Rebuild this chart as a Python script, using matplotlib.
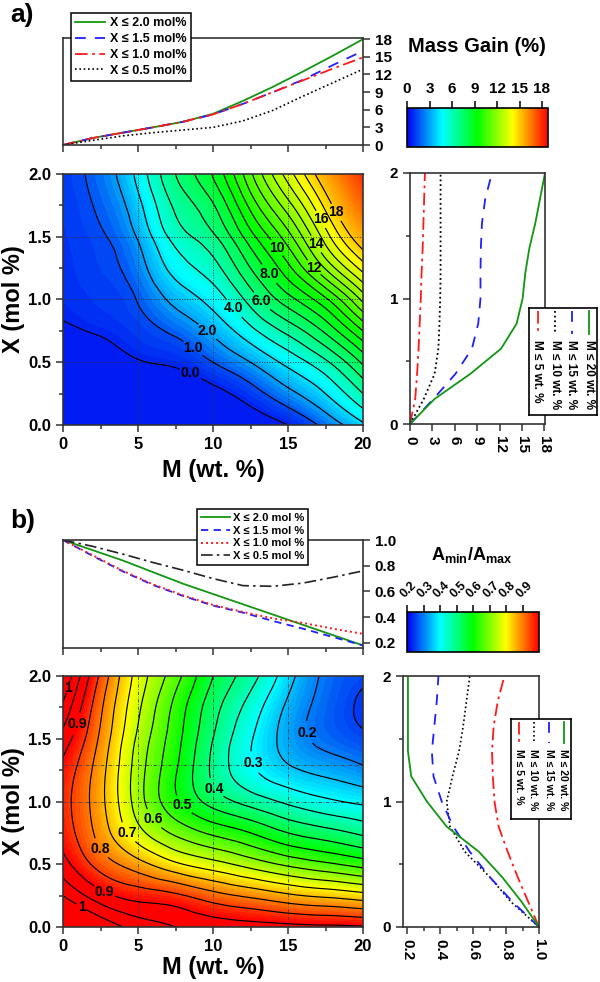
import numpy as np
import matplotlib
matplotlib.use('Agg')
import matplotlib.pyplot as plt
import matplotlib.tri as mtri
from matplotlib.colors import LinearSegmentedColormap, Normalize
from matplotlib.cm import ScalarMappable

plt.rcParams['font.family'] = ['Liberation Sans', 'DejaVu Sans']
plt.rcParams['font.weight'] = 'bold'
plt.rcParams['axes.labelweight'] = 'bold'
plt.rcParams['mathtext.fontset'] = 'custom'
plt.rcParams['mathtext.rm'] = 'Liberation Sans:bold'
plt.rcParams['mathtext.bf'] = 'Liberation Sans:bold'
plt.rcParams['mathtext.default'] = 'bf'

# ---- data ----
# map grid: M (wt. %) columns, X (mol %) rows
M_grid = [0, 2.5, 5, 7.5, 10, 12.5, 15, 17.5, 20]
X_grid = [0, 0.25, 0.5, 0.75, 1.0, 1.25, 1.5, 1.75, 2.0]

# a) mass gain (%), one row per X value
gain_map = [
    [-3.5, -3.0, -2.5, -2.0, -1.5, -0.8, 0.0, 1.3, 2.8],
    [-2.5, -2.0, -1.5, -1.0, -0.4, 0.55, 1.7, 3.0, 5.0],
    [-1.4, -0.9, -0.1, 0.2, 1.0, 2.0, 3.3, 4.8, 7.2],
    [-0.25, 0.15, 0.6, 1.2, 2.2, 3.7, 5.3, 7.2, 10.0],
    [0.25, 0.55, 1.05, 2.3, 3.4, 5.4, 7.6, 9.8, 13.3],
    [0.35, 0.75, 1.55, 3.4, 4.6, 7.0, 9.7, 13.1, 16.4],
    [0.45, 0.9, 2.1, 4.4, 5.8, 8.6, 11.6, 15.5, 19.0],
    [0.52, 1.15, 2.7, 5.2, 6.9, 10.3, 13.6, 17.3, 21.0],
    [0.6, 1.4, 3.3, 6.0, 8.1, 11.8, 15.5, 19.0, 22.5],
]

# b) Amin/Amax, one row per X value
ratio_map = [
    [1.12, 1.04, 0.98, 0.95, 0.93, 0.92, 0.915, 0.91, 0.905],
    [1.00, 0.92, 0.88, 0.86, 0.82, 0.79, 0.76, 0.74, 0.72],
    [0.92, 0.83, 0.77, 0.71, 0.67, 0.63, 0.59, 0.56, 0.53],
    [0.88, 0.78, 0.67, 0.59, 0.54, 0.50, 0.45, 0.42, 0.39],
    [0.87, 0.765, 0.625, 0.51, 0.43, 0.38, 0.34, 0.31, 0.29],
    [0.885, 0.77, 0.625, 0.505, 0.39, 0.31, 0.26, 0.235, 0.21],
    [0.93, 0.79, 0.64, 0.52, 0.40, 0.305, 0.23, 0.185, 0.16],
    [0.99, 0.81, 0.66, 0.535, 0.42, 0.33, 0.24, 0.18, 0.14],
    [1.05, 0.84, 0.68, 0.57, 0.45, 0.37, 0.27, 0.19, 0.16],
]

# top panels: value vs M
M_line = [0, 2, 4, 6, 8, 10, 12, 14, 16, 18, 20]
gain_x20 = [0, 1.2, 2.1, 3.0, 3.95, 5.3, 7.5, 9.9, 12.5, 15.2, 18.0]
gain_x15 = [0, 1.2, 2.1, 3.0, 3.95, 5.2, 7.0, 9.0, 11.1, 13.6, 16.0]
gain_x10 = [0, 1.2, 2.1, 3.0, 3.95, 5.2, 7.0, 9.0, 11.0, 13.0, 14.9]
gain_x05 = [0, 0.8, 1.55, 2.1, 2.55, 3.0, 4.1, 5.9, 8.3, 10.6, 12.9]

ratio_x20 = [1.0, 0.92, 0.84, 0.75, 0.66, 0.58, 0.50, 0.42, 0.34, 0.26, 0.18]
ratio_x15 = [1.0, 0.875, 0.755, 0.65, 0.565, 0.49, 0.435, 0.37, 0.31, 0.245, 0.18]
ratio_x10 = [1.0, 0.88, 0.76, 0.655, 0.57, 0.495, 0.44, 0.39, 0.355, 0.31, 0.27]
ratio_x05 = [1.0, 0.95, 0.89, 0.825, 0.765, 0.70, 0.645, 0.64, 0.665, 0.71, 0.76]

# right panels: value vs X
X_line = [0, 0.2, 0.4, 0.6, 0.8, 1.0, 1.2, 1.4, 1.6, 1.8, 2.0]
gain_m20 = [0, 3.3, 8.1, 12.2, 14.3, 15.1, 15.45, 16.0, 16.8, 17.45, 18.1]
gain_m15 = [0, 3.15, 6.1, 8.3, 9.15, 9.45, 9.45, 9.5, 9.65, 10.1, 11.0]
gain_m10 = [0, 1.85, 3.3, 3.8, 3.95, 4.05, 4.1, 4.1, 4.1, 4.1, 4.1]
gain_m05 = [0, 0.7, 0.95, 1.15, 1.3, 1.45, 1.55, 1.7, 1.8, 1.9, 2.0]

ratio_m20 = [1.0, 0.895, 0.775, 0.635, 0.44, 0.32, 0.225, 0.205, 0.205, 0.205, 0.205]
ratio_m15 = [1.0, 0.84, 0.70, 0.58, 0.48, 0.41, 0.36, 0.35, 0.365, 0.38, 0.39]
ratio_m10 = [1.0, 0.83, 0.70, 0.55, 0.46, 0.44, 0.475, 0.515, 0.54, 0.56, 0.58]
ratio_m05 = [1.0, 0.935, 0.87, 0.81, 0.755, 0.73, 0.72, 0.715, 0.725, 0.75, 0.79]

# ---- styling ----
GREEN = '#119611'
BLUE = '#1f1fff'
RED = '#ff1a1a'
DASH = (0, (6, 5))
DASHDOT = (0, (7, 2.5, 1.5, 2.5))
DOT = (0, (1, 1.6))
rainbow = LinearSegmentedColormap.from_list(
    'origin_rainbow', ['#0000f0', '#00ffff', '#00ff00', '#ffff00', '#ff0000'])

fig = plt.figure(figsize=(6, 9.82), dpi=100)


def px(l, t, r, b):
    return [l / 600, 1 - b / 982, (r - l) / 600, (b - t) / 982]


def style(ax, size=11):
    for s in ax.spines.values():
        s.set_linewidth(1.2)
        s.set_color('#333333')
    ax.tick_params(which='both', direction='out', width=1.1, color='#333333',
                   labelsize=size)
    ax.tick_params(which='major', length=5)
    ax.tick_params(which='minor', length=3)


def refined(z):
    mm, xx = np.meshgrid(M_grid, X_grid)
    tri = mtri.Triangulation(mm.ravel(), xx.ravel())
    return mtri.UniformTriRefiner(tri).refine_field(np.ravel(z), subdiv=3)


def contour_lines(ax, tri_f, z_f, levels, label_levels, spots, fmt):
    plain = [v for v in levels if v not in label_levels]
    ax.tricontour(tri_f, z_f, levels=plain, colors='k', linewidths=0.85)
    cs = ax.tricontour(tri_f, z_f, levels=label_levels, colors='k', linewidths=0.85)
    texts = ax.clabel(cs, manual=spots, fmt=fmt, inline=True, inline_spacing=2,
                      fontsize=10)
    for t in texts:
        t.set_rotation(0)


def side_legend(rect, entries, size):
    lax = fig.add_axes(rect)
    lax.set_xlim(0, 1)
    lax.set_ylim(0, 1)
    lax.set_xticks([])
    lax.set_yticks([])
    for s in lax.spines.values():
        s.set_linewidth(1.2)
    n = len(entries)
    for i, (lab, kw) in enumerate(entries):
        xc = (i + 0.5) / n
        lax.plot([xc, xc], [0.97, 0.76], **kw)
        lax.text(xc, 0.70, lab, rotation=-90, ha='center', va='top', fontsize=size)


def map_axes(ax, label_y):
    style(ax, 12)
    ax.set_xlim(0, 20)
    ax.set_ylim(0, 2)
    ax.set_xticks([0, 5, 10, 15, 20])
    ax.set_xticks([2.5, 7.5, 12.5, 17.5], minor=True)
    ax.set_yticks([0, 0.5, 1.0, 1.5, 2.0])
    ax.set_yticks([0.25, 0.75, 1.25, 1.75], minor=True)
    ax.yaxis.set_major_formatter(matplotlib.ticker.FormatStrFormatter('%.1f'))
    ax.set_xlabel('M (wt. %)', fontsize=17)
    ax.set_ylabel('X (mol %)', fontsize=17)
    ax.xaxis.set_label_coords(0.5, label_y)
    ax.yaxis.set_label_coords(-0.125, 0.5)


# ================= panel a =================
fig.text(0.017, 0.985, 'a)', fontsize=19, va='center')

ax = fig.add_axes(px(63, 38, 363, 145))
style(ax)
ax.plot(M_line, gain_x20, color=GREEN, lw=1.3, label='X ≤ 2.0 mol%')
ax.plot(M_line, gain_x15, color=BLUE, lw=1.3, ls=DASH, label='X ≤ 1.5 mol%')
ax.plot(M_line, gain_x10, color=RED, lw=1.3, ls=DASHDOT, label='X ≤ 1.0 mol%')
ax.plot(M_line, gain_x05, color='k', lw=1.2, ls=DOT, label='X ≤ 0.5 mol%')
ax.set_xlim(0, 20)
ax.set_ylim(0, 18.2)
ax.set_xticks([0, 5, 10, 15, 20])
ax.set_xticks([2.5, 7.5, 12.5, 17.5], minor=True)
ax.tick_params(axis='x', labelbottom=False)
ax.yaxis.tick_right()
ax.set_yticks(range(0, 19, 3))
leg = ax.legend(loc='upper left', bbox_to_anchor=(71 / 600, 1 - 13 / 982),
                bbox_transform=fig.transFigure, fontsize=9, fancybox=False,
                edgecolor='k', framealpha=1, handlelength=2.4, borderpad=0.35,
                labelspacing=0.3, handletextpad=0.4, borderaxespad=0)
leg.get_frame().set_linewidth(1.1)

fig.text(477 / 600, 1 - 47 / 982, 'Mass Gain (%)', fontsize=14.5, ha='center', va='center')
cax = fig.add_axes(px(407, 108, 548, 147))
cb = fig.colorbar(ScalarMappable(Normalize(0, 18.8), rainbow), cax=cax,
                  orientation='horizontal', ticks=range(0, 19, 3))
cax.xaxis.set_ticks_position('top')
cb.outline.set_linewidth(1.2)
cax.tick_params(direction='out', length=5, width=1.1, labelsize=11)

ax = fig.add_axes(px(63, 174, 363, 425))
map_axes(ax, -0.135)
tri_f, z_f = refined(gain_map)
bounds = np.arange(-6, 26.01, 0.25)
mid = (bounds[:-1] + bounds[1:]) / 2
pos = np.interp(mid, [0, 1, 2, 4, 6, 8, 10, 12, 14, 16, 18, 21, 24],
                [0.03, 0.08, 0.16, 0.28, 0.38, 0.46, 0.52, 0.59, 0.66, 0.73, 0.80, 0.9, 1.0])
ax.tricontourf(tri_f, z_f, levels=bounds, colors=[tuple(c) for c in rainbow(pos)])
for v in [5, 10, 15]:
    ax.axvline(v, color='#333333', ls=':', lw=0.7, zorder=2)
for v in [0.5, 1.0, 1.5]:
    ax.axhline(v, color='#333333', ls=':', lw=0.7, zorder=2)
contour_lines(ax, tri_f, z_f, list(np.arange(0, 19, 1.0)),
              [0.0, 1.0, 2.0, 4.0, 6.0, 8.0, 10.0, 12.0, 14.0, 16.0, 18.0],
              [(8.5, 0.41), (8.6, 0.6), (9.6, 0.74), (11.1, 0.9), (13.1, 0.97),
               (13.5, 1.18), (14.0, 1.39), (16.5, 1.23), (16.7, 1.43), (16.9, 1.62),
               (18.3, 1.7)],
              lambda v: f'{v:.1f}' if v < 9 else f'{v:.0f}')

ax = fig.add_axes(px(410, 173, 545, 424))
style(ax)
ax.plot(gain_m05, X_line, color=RED, lw=1.3, ls=DASHDOT)
ax.plot(gain_m10, X_line, color='k', lw=1.3, ls=DOT)
ax.plot(gain_m15, X_line, color=BLUE, lw=1.3, ls=DASH)
ax.plot(gain_m20, X_line, color=GREEN, lw=1.3)
ax.set_xlim(0, 18.1)
ax.set_ylim(0, 2)
ax.set_xticks(range(0, 19, 3))
ax.set_yticks([0, 1, 2])
ax.set_yticks([0.5, 1.5], minor=True)
ax.tick_params(axis='x', labelrotation=-90)
side_legend(px(529, 308, 597, 415), [
    ('M ≤ 5 wt. %', dict(color=RED, lw=1.3, ls=DASHDOT)),
    ('M ≤ 10 wt. %', dict(color='k', lw=1.3, ls=DOT)),
    ('M ≤ 15 wt. %', dict(color=BLUE, lw=1.3, ls=DASH)),
    ('M ≤ 20 wt. %', dict(color=GREEN, lw=1.3)),
], 8.5)

# ================= panel b =================
fig.text(0.017, 1 - 521 / 982, 'b)', fontsize=19, va='center')

ax = fig.add_axes(px(63, 540, 363, 648))
style(ax)
ax.plot(M_line, ratio_x20, color=GREEN, lw=1.3, label='X ≤ 2.0 mol %')
ax.plot(M_line, ratio_x15, color=BLUE, lw=1.3, ls=(0, (4, 3)), label='X ≤ 1.5 mol %')
ax.plot(M_line, ratio_x10, color=RED, lw=1.4, ls=DOT, label='X ≤ 1.0 mol %')
ax.plot(M_line, ratio_x05, color='#222222', lw=1.2, ls=DASHDOT, label='X ≤ 0.5 mol %')
ax.set_xlim(0, 20)
ax.set_ylim(0.16, 1.0)
ax.set_xticks([0, 5, 10, 15, 20])
ax.set_xticks([2.5, 7.5, 12.5, 17.5], minor=True)
ax.tick_params(axis='x', labelbottom=False)
ax.yaxis.tick_right()
ax.set_yticks([0.2, 0.4, 0.6, 0.8, 1.0])
ax.yaxis.set_major_formatter(matplotlib.ticker.FormatStrFormatter('%.1f'))
leg = ax.legend(loc='upper left', bbox_to_anchor=(197 / 600, 1 - 509 / 982),
                bbox_transform=fig.transFigure, fontsize=8, fancybox=False,
                edgecolor='k', framealpha=1, handlelength=2.6, borderpad=0.35,
                labelspacing=0.25, handletextpad=0.3, borderaxespad=0)
leg.get_frame().set_linewidth(1.1)

fig.text(472 / 600, 1 - 555 / 982, r'$A_{min}/A_{max}$', fontsize=13, ha='center', va='center')
cax = fig.add_axes(px(407, 612, 539, 652))
cb = fig.colorbar(ScalarMappable(Normalize(0.2, 1.0), rainbow), cax=cax,
                  orientation='horizontal', ticks=[0.2, 0.3, 0.4, 0.5, 0.6, 0.7, 0.8, 0.9])
cax.xaxis.set_ticks_position('top')
cb.outline.set_linewidth(1.2)
cax.tick_params(direction='out', length=5, width=1.1, labelsize=9)
cax.set_xticklabels(['0.2', '0.3', '0.4', '0.5', '0.6', '0.7', '0.8', '0.9'],
                    rotation=45, ha='left', va='bottom', rotation_mode='anchor')

ax = fig.add_axes(px(63, 676, 363, 927))
map_axes(ax, -0.115)
tri_f, z_f = refined(ratio_map)
ax.tricontourf(tri_f, z_f, levels=np.linspace(0.1, 0.9, 81), cmap=rainbow, extend='both')
for v in [5, 10, 15]:
    ax.axvline(v, color='#444444', ls=(0, (4, 2, 1, 2)), lw=0.6, zorder=2)
for v in [1.0, 1.29]:
    ax.axhline(v, color='#444444', ls=(0, (4, 2, 1, 2)), lw=0.6, zorder=2)
contour_lines(ax, tri_f, z_f,
              [0.15, 0.2, 0.25, 0.3, 0.35, 0.4, 0.45, 0.5, 0.55, 0.6, 0.65, 0.7,
               0.75, 0.8, 0.85, 0.9, 0.95, 1.0],
              [0.2, 0.3, 0.4, 0.5, 0.6, 0.7, 0.8, 0.9, 1.0],
              [(0.8, 1.89), (0.9, 1.62), (2.2, 0.6), (3.8, 0.71), (5.8, 0.84),
               (7.9, 0.96), (10.3, 1.12), (12.9, 1.32), (16.7, 1.56), (2.7, 0.27),
               (1.2, 0.15)],
              lambda v: '1' if abs(v - 1) < 1e-6 else f'{v:.1f}')

ax = fig.add_axes(px(403, 676, 539, 927))
style(ax)
ax.plot(ratio_m05, X_line, color=RED, lw=1.3, ls=DASHDOT)
ax.plot(ratio_m10, X_line, color='k', lw=1.2, ls=DOT)
ax.plot(ratio_m15, X_line, color=BLUE, lw=1.3, ls=DASH)
ax.plot(ratio_m20, X_line, color=GREEN, lw=1.3)
ax.set_xlim(0.175, 1.0)
ax.set_ylim(0, 2)
ax.set_xticks([0.2, 0.4, 0.6, 0.8, 1.0])
ax.set_xticks([0.3, 0.5, 0.7, 0.9], minor=True)
ax.xaxis.set_major_formatter(matplotlib.ticker.FormatStrFormatter('%.1f'))
ax.set_yticks([0, 1, 2])
ax.set_yticks([0.5, 1.5], minor=True)
ax.tick_params(axis='x', labelrotation=-90)
side_legend(px(511, 719, 571, 819), [
    ('M ≤ 5 wt. %', dict(color=RED, lw=1.3, ls=DASHDOT)),
    ('M ≤ 10 wt. %', dict(color='k', lw=1.2, ls=DOT)),
    ('M ≤ 15 wt. %', dict(color=BLUE, lw=1.3, ls=DASH)),
    ('M ≤ 20 wt. %', dict(color=GREEN, lw=1.3)),
], 7.5)

fig.savefig('out.png', dpi=100)
